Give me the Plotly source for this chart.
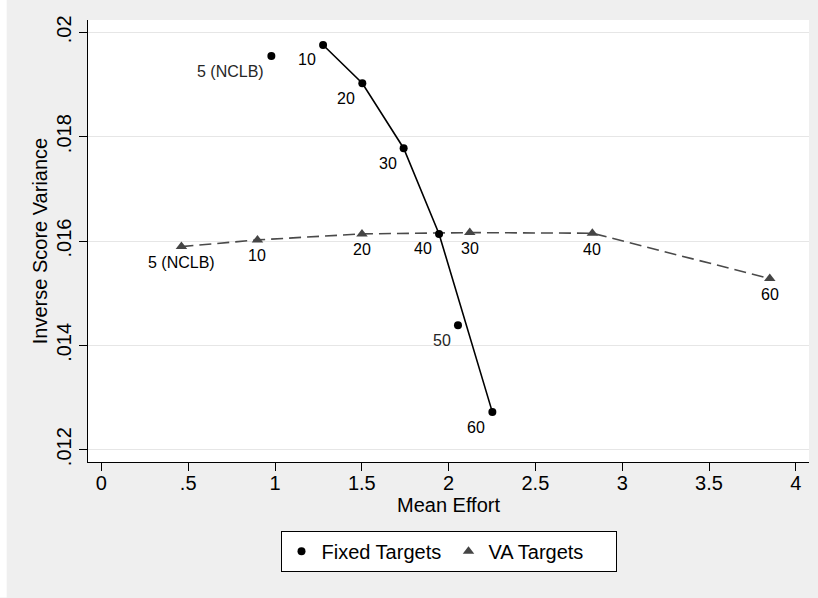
import plotly.graph_objects as go

# ---- data ----
fixed_labels = ["5 (NCLB)", "10", "20", "30", "40", "50", "60"]
fixed_x = [0.979, 1.277, 1.503, 1.741, 1.945, 2.054, 2.252]
fixed_y = [0.019546, 0.019757, 0.019023, 0.017778, 0.016136, 0.014387, 0.012720]
fixed_on_line = [False, True, True, True, True, False, True]

va_labels = ["5 (NCLB)", "10", "20", "30", "40", "60"]
va_x = [0.461, 0.899, 1.501, 2.122, 2.828, 3.850]
va_y = [0.015893, 0.016021, 0.016136, 0.016161, 0.016149, 0.015280]

x_ticks = [0, 0.5, 1, 1.5, 2, 2.5, 3, 3.5, 4]
x_ticktext = ["0", ".5", "1", "1.5", "2", "2.5", "3", "3.5", "4"]
y_ticks = [0.012, 0.014, 0.016, 0.018, 0.020]
y_ticktext = [".012", ".014", ".016", ".018", ".02"]

FONT = "Arial, Liberation Sans, sans-serif"
GRAY_BG = "#efefef"
VA_COLOR = "#454545"

fig = go.Figure()

# Fixed targets: connecting line (only the frontier points)
lx = [x for x, on in zip(fixed_x, fixed_on_line) if on]
ly = [y for y, on in zip(fixed_y, fixed_on_line) if on]
fig.add_trace(go.Scatter(x=lx, y=ly, mode="lines",
                         line=dict(color="black", width=1.6),
                         showlegend=False, hoverinfo="skip"))
# VA targets: dashed line
fig.add_trace(go.Scatter(x=va_x, y=va_y, mode="lines",
                         line=dict(color="#4a4a4a", width=1.6, dash="12px,6px"),
                         showlegend=False, hoverinfo="skip"))
# markers
fig.add_trace(go.Scatter(x=fixed_x, y=fixed_y, mode="markers", name="Fixed Targets",
                         marker=dict(symbol="circle", size=8, color="black")))
fig.add_trace(go.Scatter(x=va_x, y=va_y, mode="markers", name="VA Targets",
                         marker=dict(symbol="triangle-up", size=10, color=VA_COLOR)))

annotations = []
for lab, x, y, on in zip(fixed_labels, fixed_x, fixed_y, fixed_on_line):
    annotations.append(dict(x=x, y=y, text=lab, showarrow=False,
                            xanchor="right", yanchor="middle",
                            xshift=-5, yshift=-15,
                            font=dict(family=FONT, size=16,
                                      color="black" if on else "#262626")))
for lab, x, y in zip(va_labels, va_x, va_y):
    annotations.append(dict(x=x, y=y, text=lab, showarrow=False,
                            xanchor="center", yanchor="middle",
                            yshift=-16,
                            font=dict(family=FONT, size=16, color="black")))

# plot-area pixel geometry: x 88.3..809.3, y 20..462.3
PW, PH = 721.0, 442.3
def px_x(p):
    return (p - 88.3) / PW
def px_y(p):
    return (462.3 - p) / PH

shapes = [
    # white strip at left edge of the image
    dict(type="rect", xref="paper", yref="paper",
         x0=px_x(0), x1=px_x(7), y0=px_y(598), y1=px_y(0),
         fillcolor="white", line=dict(width=0), layer="below"),
]

fig.update_layout(
    width=818, height=598,
    margin=dict(l=88, r=9, t=20, b=136),
    paper_bgcolor=GRAY_BG,
    plot_bgcolor="white",
    font=dict(family=FONT, size=20, color="black"),
    showlegend=True,
    legend=dict(orientation="h", x=0.5, xanchor="center",
                y=px_y(531), yanchor="top",
                bgcolor="white", bordercolor="black", borderwidth=1,
                font=dict(family=FONT, size=20, color="black"),
                itemwidth=30, entrywidth=122, entrywidthmode="pixels"),
    annotations=annotations,
    shapes=shapes,
    xaxis=dict(range=[-0.0772, 4.076], tickvals=x_ticks, ticktext=x_ticktext,
               showgrid=False, zeroline=False, showline=True,
               linecolor="black", linewidth=1, ticks="outside",
               ticklen=8, tickcolor="black", tickwidth=1,
               tickfont=dict(size=20), ticklabelstandoff=-5,
               title=dict(text="Mean Effort", font=dict(size=20), standoff=4)),
    yaxis=dict(range=[0.011764, 0.020236], tickvals=y_ticks, ticktext=y_ticktext,
               showgrid=True, gridcolor="#e6e6e6", gridwidth=1.3,
               zeroline=False, showline=True,
               linecolor="black", linewidth=1, ticks="outside",
               ticklen=8, tickcolor="black", tickwidth=1,
               tickangle=-90, tickfont=dict(size=20),
               title=dict(text="Inverse Score Variance", font=dict(size=20), standoff=0)),
)

fig.write_html("out.html")
